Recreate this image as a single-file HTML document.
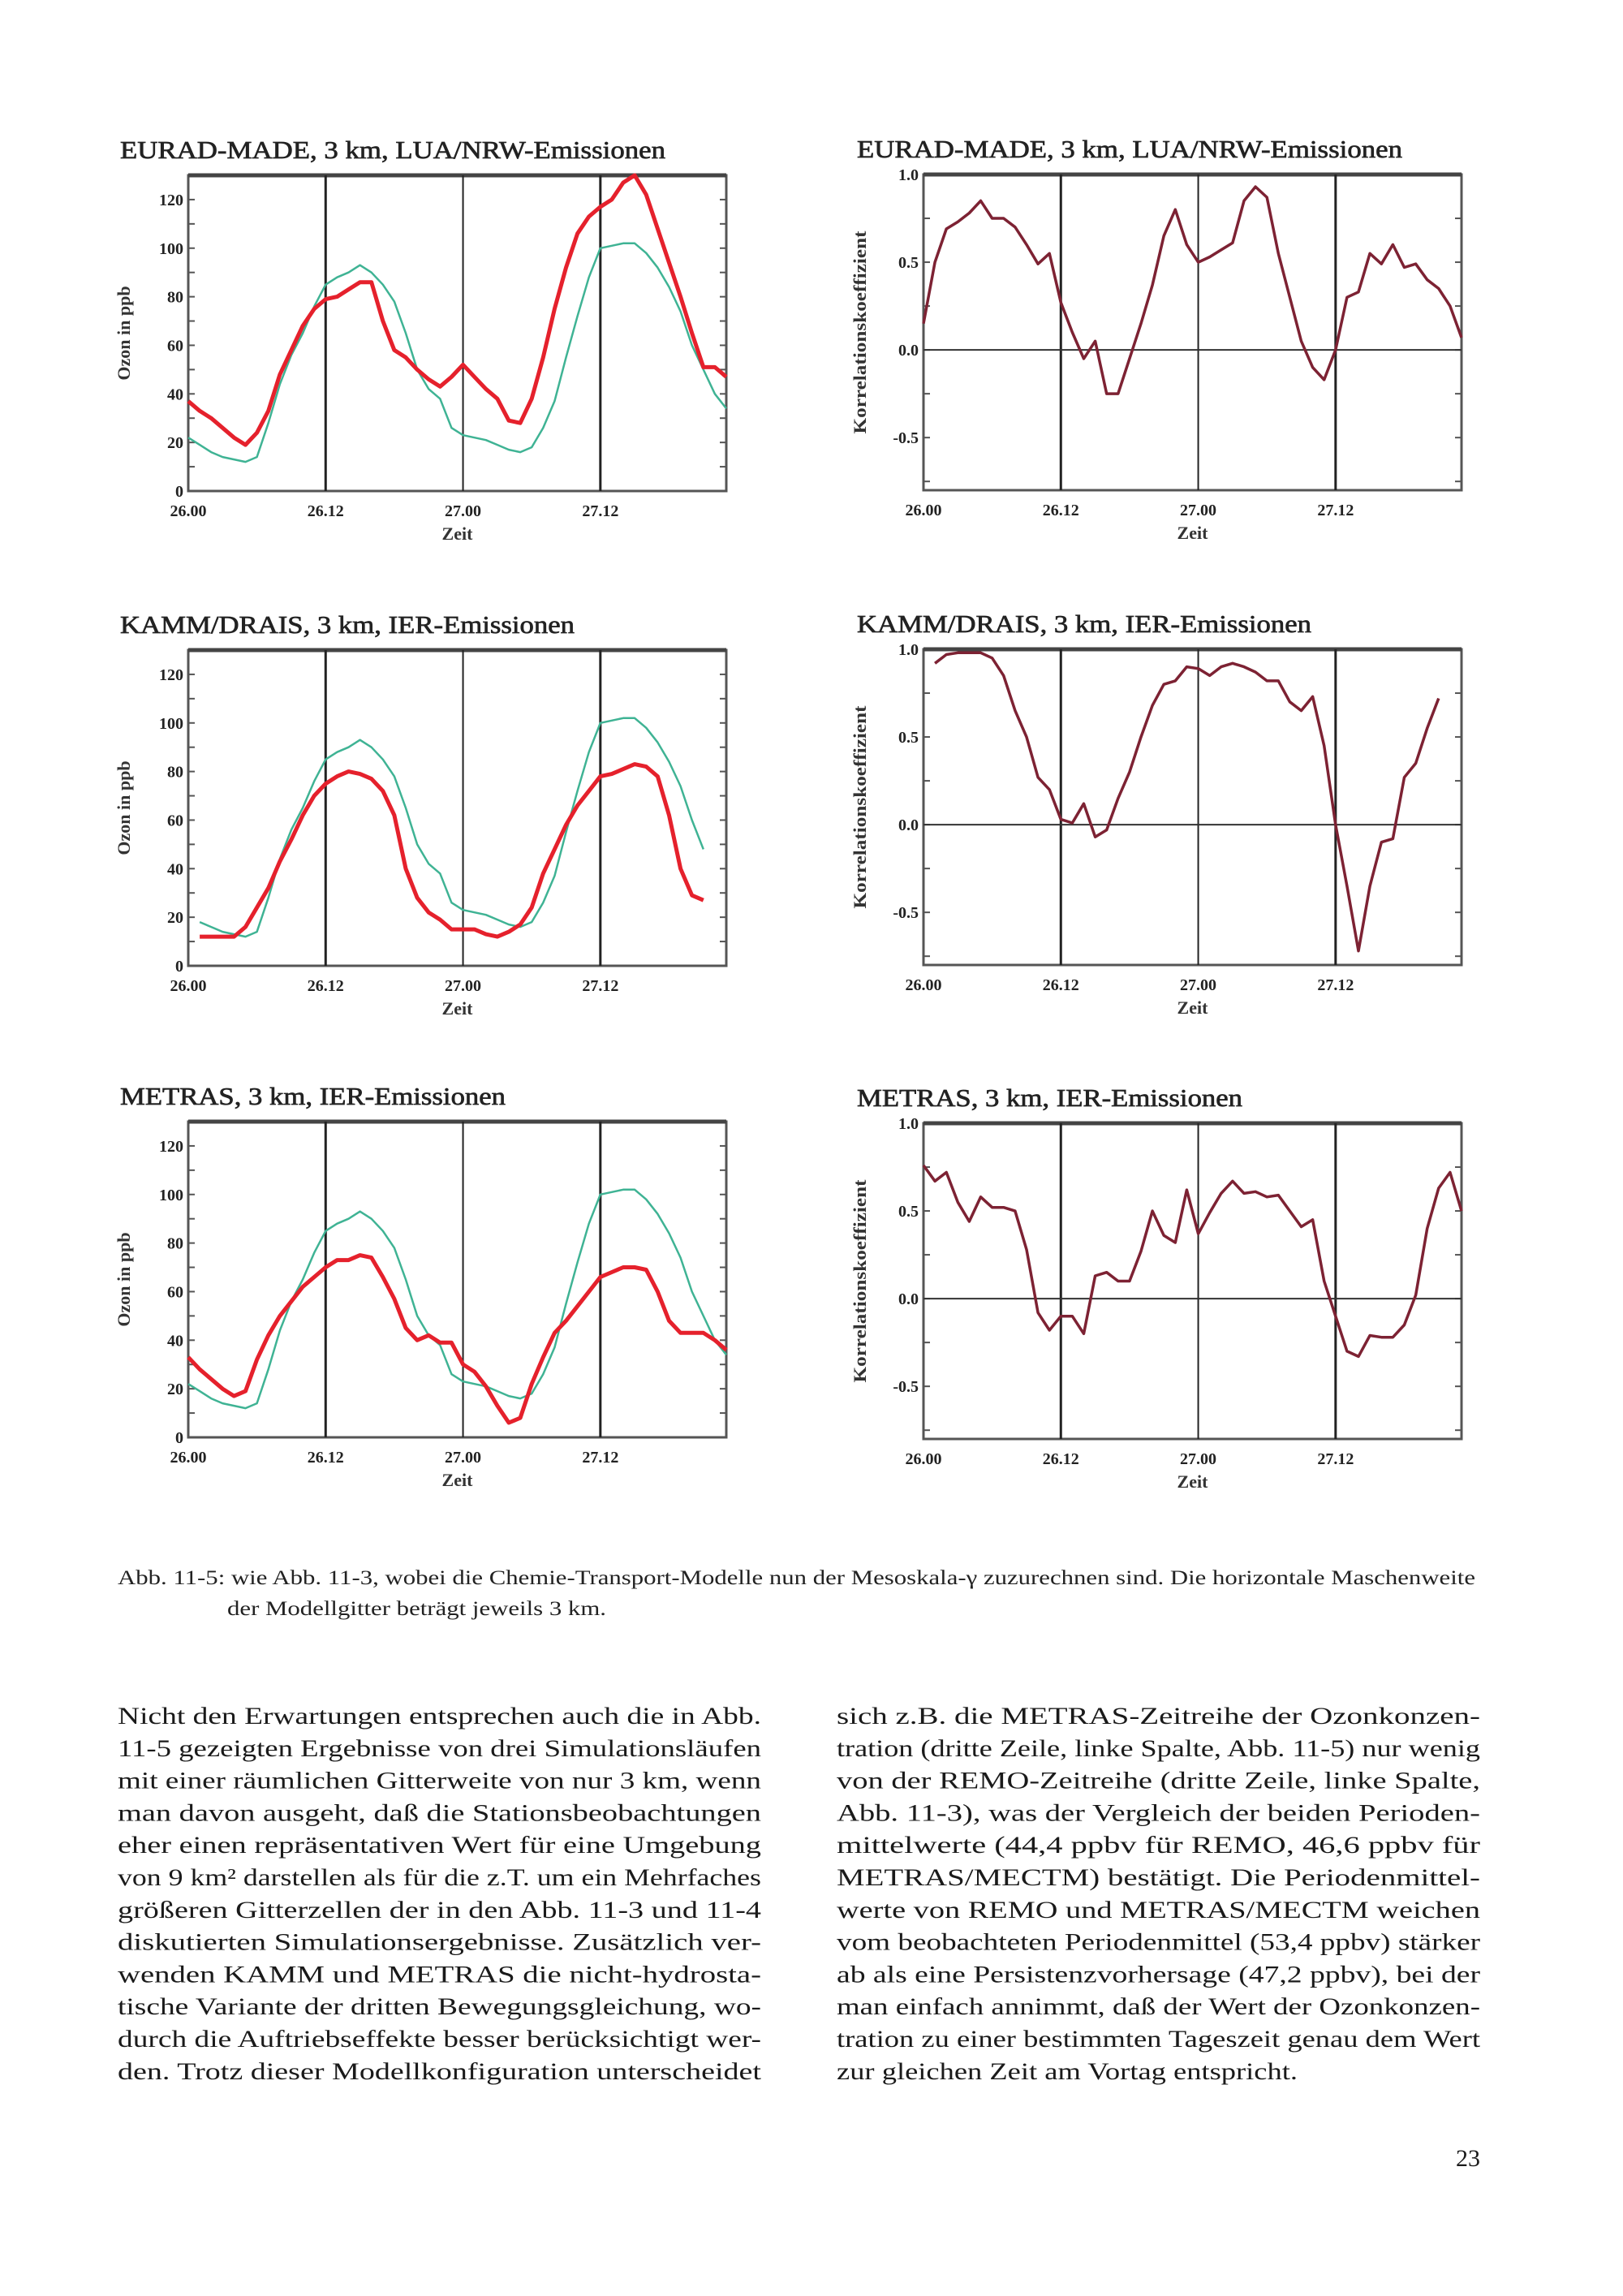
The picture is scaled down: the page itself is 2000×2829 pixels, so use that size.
<!DOCTYPE html>
<html><head><meta charset="utf-8"><style>
html,body{margin:0;padding:0;background:#fff;}
svg{display:block;}
</style></head><body>
<svg id="page" width="2000" height="2829" viewBox="0 0 2000 2829" xmlns="http://www.w3.org/2000/svg" font-family="Liberation Serif, serif">
<g id="charts"></g>
<g id="textblock" fill="#222">
<text x="145" y="1952" font-size="25" textLength="1673" lengthAdjust="spacingAndGlyphs">Abb. 11-5: wie Abb. 11-3, wobei die Chemie-Transport-Modelle nun der Mesoskala-γ zuzurechnen sind. Die horizontale Maschenweite</text>
<text x="280" y="1990" font-size="25" textLength="467" lengthAdjust="spacingAndGlyphs">der Modellgitter beträgt jeweils 3 km.</text>
</g>
<g id="body" fill="#1a1a1a" font-size="30"></g>
<text x="1824" y="2669" font-size="30" text-anchor="end" fill="#1a1a1a">23</text>
</svg>
<script>
// ---- data (hourly, 26.00 .. 27.23) ----
const hours = [0,1,2,3,4,5,6,7,8,9,10,11,12,13,14,15,16,17,18,19,20,21,22,23,24,25,26,27,28,29,30,31,32,33,34,35,36,37,38,39,40,41,42,43,44,45,46,47];
const xTickHours = [0,12,24,36];
const xTickLabels = ["26.00","26.12","27.00","27.12"];
const ozoneTicks = [0,20,40,60,80,100,120];
const ozoneTickLabels = ["0","20","40","60","80","100","120"];
const corrTicks = [-0.5,0,0.5,1.0];
const corrTickLabels = ["-0.5","0.0","0.5","1.0"];

const observed = [22,19,16,14,13,12,14,28,44,56,65,76,85,88,90,93,90,85,78,65,50,42,38,26,23,22,21,19,17,16,18,26,37,55,72,88,100,101,102,102,98,92,84,74,60,50,40,34];
const observedKamm = [null,18,16,14,13,12,14,28,44,56,65,76,85,88,90,93,90,85,78,65,50,42,38,26,23,22,21,19,17,16,18,26,37,55,72,88,100,101,102,102,98,92,84,74,60,48,null,null];
const euradModel = [37,33,30,26,22,19,24,33,48,58,68,75,79,80,83,86,86,70,58,55,50,46,43,47,52,47,42,38,29,28,38,55,75,92,106,113,117,120,127,130,122,108,94,80,65,51,51,47];
const kammModel = [null,12,12,12,12,16,24,32,43,52,62,70,75,78,80,79,77,72,62,40,28,22,19,15,15,15,13,12,14,17,24,38,48,58,66,72,78,79,81,83,82,78,62,40,29,27,null,null];
const metrasModel = [33,28,24,20,17,19,32,42,50,56,62,66,70,73,73,75,74,66,57,45,40,42,39,39,30,27,21,13,6,8,22,33,43,48,54,60,66,68,70,70,69,60,48,43,43,43,40,36];

const euradCorr = [0.15,0.5,0.69,0.73,0.78,0.85,0.75,0.75,0.7,0.6,0.49,0.55,0.27,0.1,-0.05,0.05,-0.25,-0.25,-0.05,0.15,0.37,0.65,0.8,0.6,0.5,0.53,0.57,0.61,0.85,0.93,0.87,0.55,0.3,0.05,-0.1,-0.17,0.0,0.3,0.33,0.55,0.49,0.6,0.47,0.49,0.4,0.35,0.25,0.07];
const kammCorr = [null,0.92,0.97,0.98,0.98,0.98,0.95,0.85,0.65,0.5,0.27,0.2,0.03,0.01,0.12,-0.07,-0.03,0.15,0.3,0.5,0.68,0.8,0.82,0.9,0.89,0.85,0.9,0.92,0.9,0.87,0.82,0.82,0.7,0.65,0.73,0.45,0.0,-0.35,-0.72,-0.35,-0.1,-0.08,0.27,0.35,0.55,0.72,null,null];
const metrasCorr = [0.76,0.67,0.72,0.55,0.44,0.58,0.52,0.52,0.5,0.28,-0.08,-0.18,-0.1,-0.1,-0.2,0.13,0.15,0.1,0.1,0.27,0.5,0.36,0.32,0.62,0.37,0.49,0.6,0.67,0.6,0.61,0.58,0.59,0.5,0.41,0.45,0.1,-0.1,-0.3,-0.33,-0.21,-0.22,-0.22,-0.15,0.02,0.4,0.63,0.72,0.5];

const panels = [
 {name:"eurad-ozone", title:"EURAD-MADE, 3 km, LUA/NRW-Emissionen", kind:"oz", x0:232, top:216, obs:observed, model:euradModel},
 {name:"eurad-corr", title:"EURAD-MADE, 3 km, LUA/NRW-Emissionen", kind:"co", x0:1138, top:215, corr:euradCorr},
 {name:"kamm-ozone", title:"KAMM/DRAIS, 3 km, IER-Emissionen", kind:"oz", x0:232, top:801, obs:observedKamm, model:kammModel},
 {name:"kamm-corr", title:"KAMM/DRAIS, 3 km, IER-Emissionen", kind:"co", x0:1138, top:800, corr:kammCorr},
 {name:"metras-ozone", title:"METRAS, 3 km, IER-Emissionen", kind:"oz", x0:232, top:1382, obs:observed, model:metrasModel},
 {name:"metras-corr", title:"METRAS, 3 km, IER-Emissionen", kind:"co", x0:1138, top:1384, corr:metrasCorr}
];
const titleWidths = {"EURAD-MADE, 3 km, LUA/NRW-Emissionen":672,"KAMM/DRAIS, 3 km, IER-Emissionen":560,"METRAS, 3 km, IER-Emissionen":475};

const NS="http://www.w3.org/2000/svg";
function mk(tag, attrs, parent){const e=document.createElementNS(NS,tag);for(const k in attrs)e.setAttribute(k,attrs[k]);parent.appendChild(e);return e;}
const root=document.getElementById('charts');
const W=663, H=389;

panels.forEach(p=>{
  const g=mk('g',{},root);
  
  
  const x0=p.x0, top=p.top, bot=top+H;
  const xs=h=>x0+h*(W/47);
  let ymin,ymax;
  if(p.kind==="oz"){ymin=0;ymax=130;}else{ymin=-0.8;ymax=1.0;}
  const ys=v=>bot-(v-ymin)/(ymax-ymin)*H;
  const t=mk('text',{y:top-21,'font-size':31,fill:'#222',stroke:'#222','stroke-width':0.7,textLength:titleWidths[p.title],lengthAdjust:'spacingAndGlyphs'},g);
  t.setAttribute('x', p.kind==="oz"?148:1056);
  t.textContent=p.title;
  
  
  const fr=mk('rect',{x:x0,y:top,width:W,height:H,fill:'none',stroke:'#555','stroke-width':3},g);
  
  
  mk('line',{x1:x0,x2:x0+W,y1:top,y2:top,stroke:'#444','stroke-width':5},g);
  xTickHours.slice(1).forEach((h,i)=>{
    const l=mk('line',{x1:xs(h),x2:xs(h),y1:top,y2:bot,stroke:'#222','stroke-width':h===24?2:3},g);
    
    
  });
  xTickHours.forEach((h,i)=>{
    const tx=mk('text',{x:xs(h),y:bot+31,'font-size':20,'font-weight':'bold','text-anchor':'middle',fill:'#222'},g);
    tx.textContent=xTickLabels[i];
    
    
  });
  const xl=mk('text',{x:x0+W/2,y:bot+60,'font-size':22,'font-weight':'bold','text-anchor':'middle',fill:'#333'},g);
  xl.textContent="Zeit";
  
  
  const ticks=p.kind==="oz"?ozoneTicks:corrTicks, labs=p.kind==="oz"?ozoneTickLabels:corrTickLabels;
  ticks.forEach((v,i)=>{
    const tx=mk('text',{x:x0-6,y:ys(v)+7,'font-size':20,'font-weight':'bold','text-anchor':'end',fill:'#222'},g);
    tx.textContent=labs[i];
    
    
  });
  const step=p.kind==="oz"?10:0.25;
  for(let v=ymin+(p.kind==="oz"?10:0.05);v<ymax-0.01;v+=step){
    const vv=Math.round(v*100)/100;
    mk('line',{x1:x0,x2:x0+8,y1:ys(vv),y2:ys(vv),stroke:'#555','stroke-width':2},g);
    mk('line',{x1:x0+W-8,x2:x0+W,y1:ys(vv),y2:ys(vv),stroke:'#555','stroke-width':2},g);
  }
  const yt=mk('text',{'font-size':22,'font-weight':'bold','text-anchor':'middle',fill:'#333'},g);
  const cx=p.kind==="oz"?160:1067, cy=top+H/2;
  yt.setAttribute('transform',`translate(${cx},${cy}) rotate(-90)`);
  yt.textContent=p.kind==="oz"?"Ozon in ppb":"Korrelationskoeffizient";
  if(p.kind==="co"){yt.setAttribute('textLength',250);yt.setAttribute('lengthAdjust','spacingAndGlyphs');}
  
  
  function path(arr){let d="",pen=false;arr.forEach((v,i)=>{if(v===null){pen=false;return;}d+=(pen?"L":"M")+xs(hours[i]).toFixed(1)+","+ys(v).toFixed(1);pen=true;});return d;}
  if(p.kind==="oz"){
    const o=mk('path',{d:path(p.obs),fill:'none',stroke:'#3fb394','stroke-width':2.5,'stroke-linejoin':'round'},g);
    
    
    const m=mk('path',{d:path(p.model),fill:'none',stroke:'#e5212c','stroke-width':5,'stroke-linejoin':'round'},g);
    
    
  } else {
    const z=mk('line',{x1:x0,x2:x0+W,y1:ys(0),y2:ys(0),stroke:'#333','stroke-width':2},g);
    
    
    const c=mk('path',{d:path(p.corr),fill:'none',stroke:'#7d2233','stroke-width':3.5,'stroke-linejoin':'round'},g);
    
    
  }
});

const leftLines = [
 ["Nicht den Erwartungen entsprechen auch die in Abb.",1],
 ["11-5 gezeigten Ergebnisse von drei Simulationsläufen",1],
 ["mit einer räumlichen Gitterweite von nur 3 km, wenn",1],
 ["man davon ausgeht, daß die Stationsbeobachtungen",1],
 ["eher einen repräsentativen Wert für eine Umgebung",1],
 ["von 9 km² darstellen als für die z.T. um ein Mehrfaches",1],
 ["größeren Gitterzellen der in den Abb. 11-3 und 11-4",1],
 ["diskutierten Simulationsergebnisse. Zusätzlich ver-",1],
 ["wenden KAMM und METRAS die nicht-hydrosta-",1],
 ["tische Variante der dritten Bewegungsgleichung, wo-",1],
 ["durch die Auftriebseffekte besser berücksichtigt wer-",1],
 ["den. Trotz dieser Modellkonfiguration unterscheidet",1]
];
const rightLines = [
 ["sich z.B. die METRAS-Zeitreihe der Ozonkonzen-",1],
 ["tration (dritte Zeile, linke Spalte, Abb. 11-5) nur wenig",1],
 ["von der REMO-Zeitreihe (dritte Zeile, linke Spalte,",1],
 ["Abb. 11-3), was der Vergleich der beiden Perioden-",1],
 ["mittelwerte (44,4 ppbv für REMO, 46,6 ppbv für",1],
 ["METRAS/MECTM) bestätigt. Die Periodenmittel-",1],
 ["werte von REMO und METRAS/MECTM weichen",1],
 ["vom beobachteten Periodenmittel (53,4 ppbv) stärker",1],
 ["ab als eine Persistenzvorhersage (47,2 ppbv), bei der",1],
 ["man einfach annimmt, daß der Wert der Ozonkonzen-",1],
 ["tration zu einer bestimmten Tageszeit genau dem Wert",1],
 ["zur gleichen Zeit am Vortag entspricht.",0]
];
const body=document.getElementById('body');
function writeCol(lines,x,w,name){
  lines.forEach((ln,i)=>{
    const t=mk('text',{x:x,y:2124+i*39.8},body);
    t.setAttribute('textLength', ln[1]?w:568);
    t.setAttribute('lengthAdjust','spacingAndGlyphs');
    t.textContent=ln[0];
    
    
  });
}
writeCol(leftLines,145,793,'left-column');
writeCol(rightLines,1031,793,'right-column');
</script>
</body></html>
